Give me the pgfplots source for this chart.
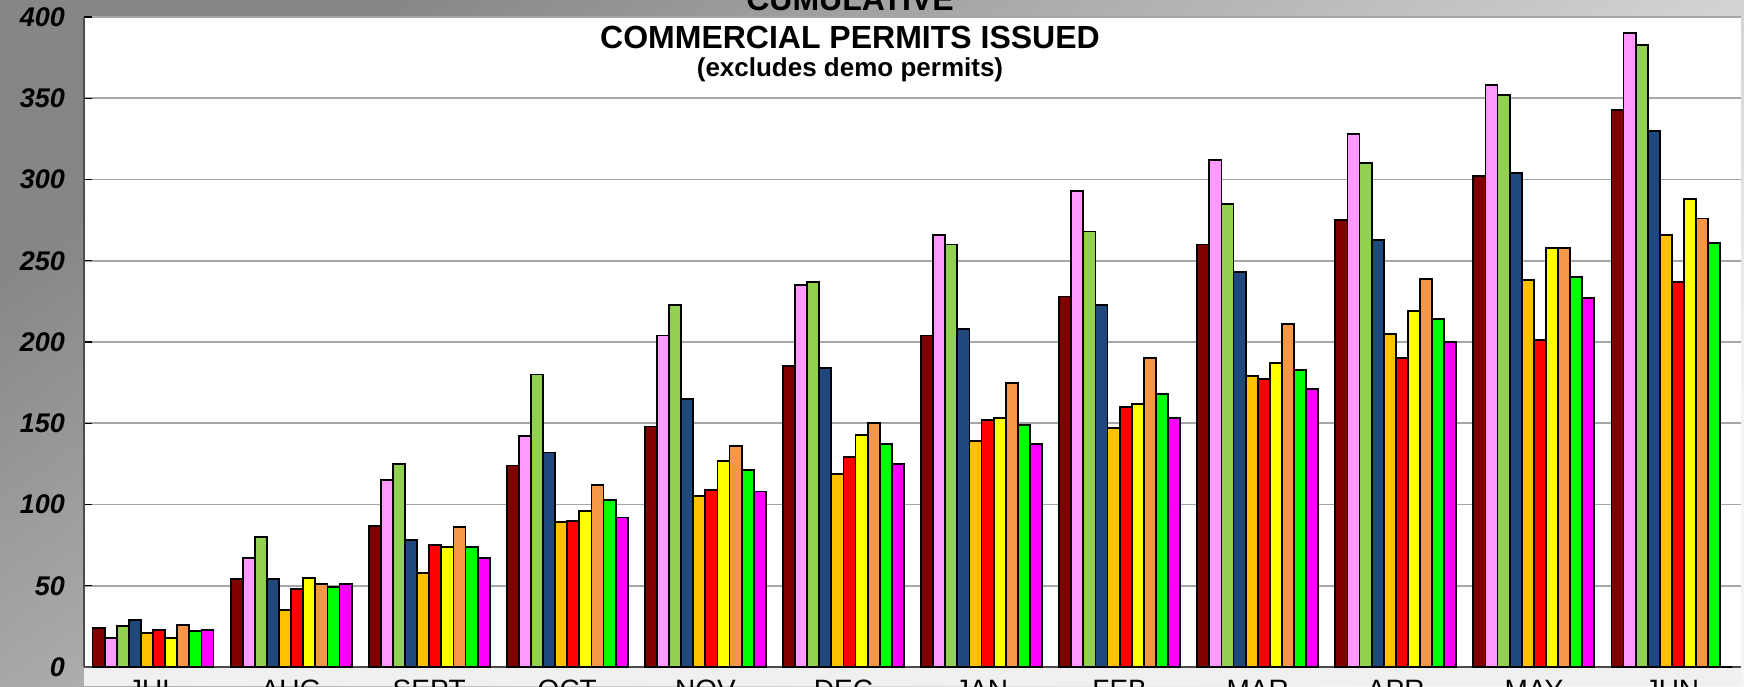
\documentclass[border=0pt]{standalone}
\usepackage{pgfplots}
\pgfplotsset{compat=1.18}
\usepackage{fontspec}
\setmainfont{Liberation Sans}
\definecolor{c1}{HTML}{800000}
\definecolor{c2}{HTML}{FF99FF}
\definecolor{c3}{HTML}{92D050}
\definecolor{c4}{HTML}{1F497D}
\definecolor{c5}{HTML}{FFC000}
\definecolor{c6}{HTML}{FF0000}
\definecolor{c7}{HTML}{FFFF00}
\definecolor{c8}{HTML}{F79646}
\definecolor{c9}{HTML}{00FF00}
\definecolor{c10}{HTML}{FF00FF}
\begin{document}
\begin{tikzpicture}
\path[use as bounding box, shading=axis, top color=gray!95, bottom color=gray!8, shading angle=35] (-42pt,-9.5pt) rectangle (830pt,333.5pt);
\fill[gray!12] (0,-9.5pt) rectangle (828.5pt,0);
\begin{axis}[
  at={(0,0)}, anchor=south west,
  width=828.5pt, height=325pt, scale only axis,
  xmin=-0.5, xmax=11.5, ymin=0, ymax=400,
  ybar=0pt, bar width=6.05pt,
  axis background/.style={fill=white},
  ytick={0,50,...,400},
  /pgf/number format/assume math mode=true,
  yticklabel style={font=\bfseries\itshape\fontsize{13.5}{13.5}\selectfont, xshift=-6pt},
  ymajorgrids, grid style={gray!70, line width=0.8pt},
  major tick length=4pt,
  ytick style={black, line width=0.6pt},
  xtick={0,...,11},
  xticklabels={JUL,AUG,SEPT,OCT,NOV,DEC,JAN,FEB,MAR,APR,MAY,JUN},
  xticklabel style={font=\fontsize{14}{14}\selectfont, yshift=1pt},
  xtick style={draw=none},
  extra x ticks={-0.5,0.5,...,11.5}, extra x tick labels={},
  extra x tick style={tick style={draw=gray!70!black, line width=0.6pt}, major tick length=12pt, tick align=outside, grid=none},
  axis line style={draw=gray!60!black, line width=0.6pt},
  axis x line*=bottom, axis y line*=left,
  every axis plot/.append style={draw=black, line width=0.9pt},
  clip=true,
]
\addplot[fill=c1] coordinates {(0,24)(1,54)(2,87)(3,124)(4,148)(5,185)(6,204)(7,228)(8,260)(9,275)(10,302)(11,343)};
\addplot[fill=c2] coordinates {(0,18)(1,67)(2,115)(3,142)(4,204)(5,235)(6,266)(7,293)(8,312)(9,328)(10,358)(11,390)};
\addplot[fill=c3] coordinates {(0,25)(1,80)(2,125)(3,180)(4,223)(5,237)(6,260)(7,268)(8,285)(9,310)(10,352)(11,383)};
\addplot[fill=c4] coordinates {(0,29)(1,54)(2,78)(3,132)(4,165)(5,184)(6,208)(7,223)(8,243)(9,263)(10,304)(11,330)};
\addplot[fill=c5] coordinates {(0,21)(1,35)(2,58)(3,89)(4,105)(5,119)(6,139)(7,147)(8,179)(9,205)(10,238)(11,266)};
\addplot[fill=c6] coordinates {(0,23)(1,48)(2,75)(3,90)(4,109)(5,129)(6,152)(7,160)(8,177)(9,190)(10,201)(11,237)};
\addplot[fill=c7] coordinates {(0,18)(1,55)(2,74)(3,96)(4,127)(5,143)(6,153)(7,162)(8,187)(9,219)(10,258)(11,288)};
\addplot[fill=c8] coordinates {(0,26)(1,51)(2,86)(3,112)(4,136)(5,150)(6,175)(7,190)(8,211)(9,239)(10,258)(11,276)};
\addplot[fill=c9] coordinates {(0,22)(1,49)(2,74)(3,103)(4,121)(5,137)(6,149)(7,168)(8,183)(9,214)(10,240)(11,261)};
\addplot[fill=c10] coordinates {(0,23)(1,51)(2,67)(3,92)(4,108)(5,125)(6,137)(7,153)(8,171)(9,200)(10,227)(11,0)};
\end{axis}
\node[font=\bfseries\fontsize{16}{16}\selectfont, anchor=base] at (383pt,328pt) {CUMULATIVE};
\node[font=\bfseries\fontsize{16}{16}\selectfont] at (383pt,315pt) {COMMERCIAL PERMITS ISSUED};
\node[font=\bfseries\fontsize{13}{13}\selectfont] at (383pt,298.5pt) {(excludes demo permits)};
\end{tikzpicture}
\end{document}
